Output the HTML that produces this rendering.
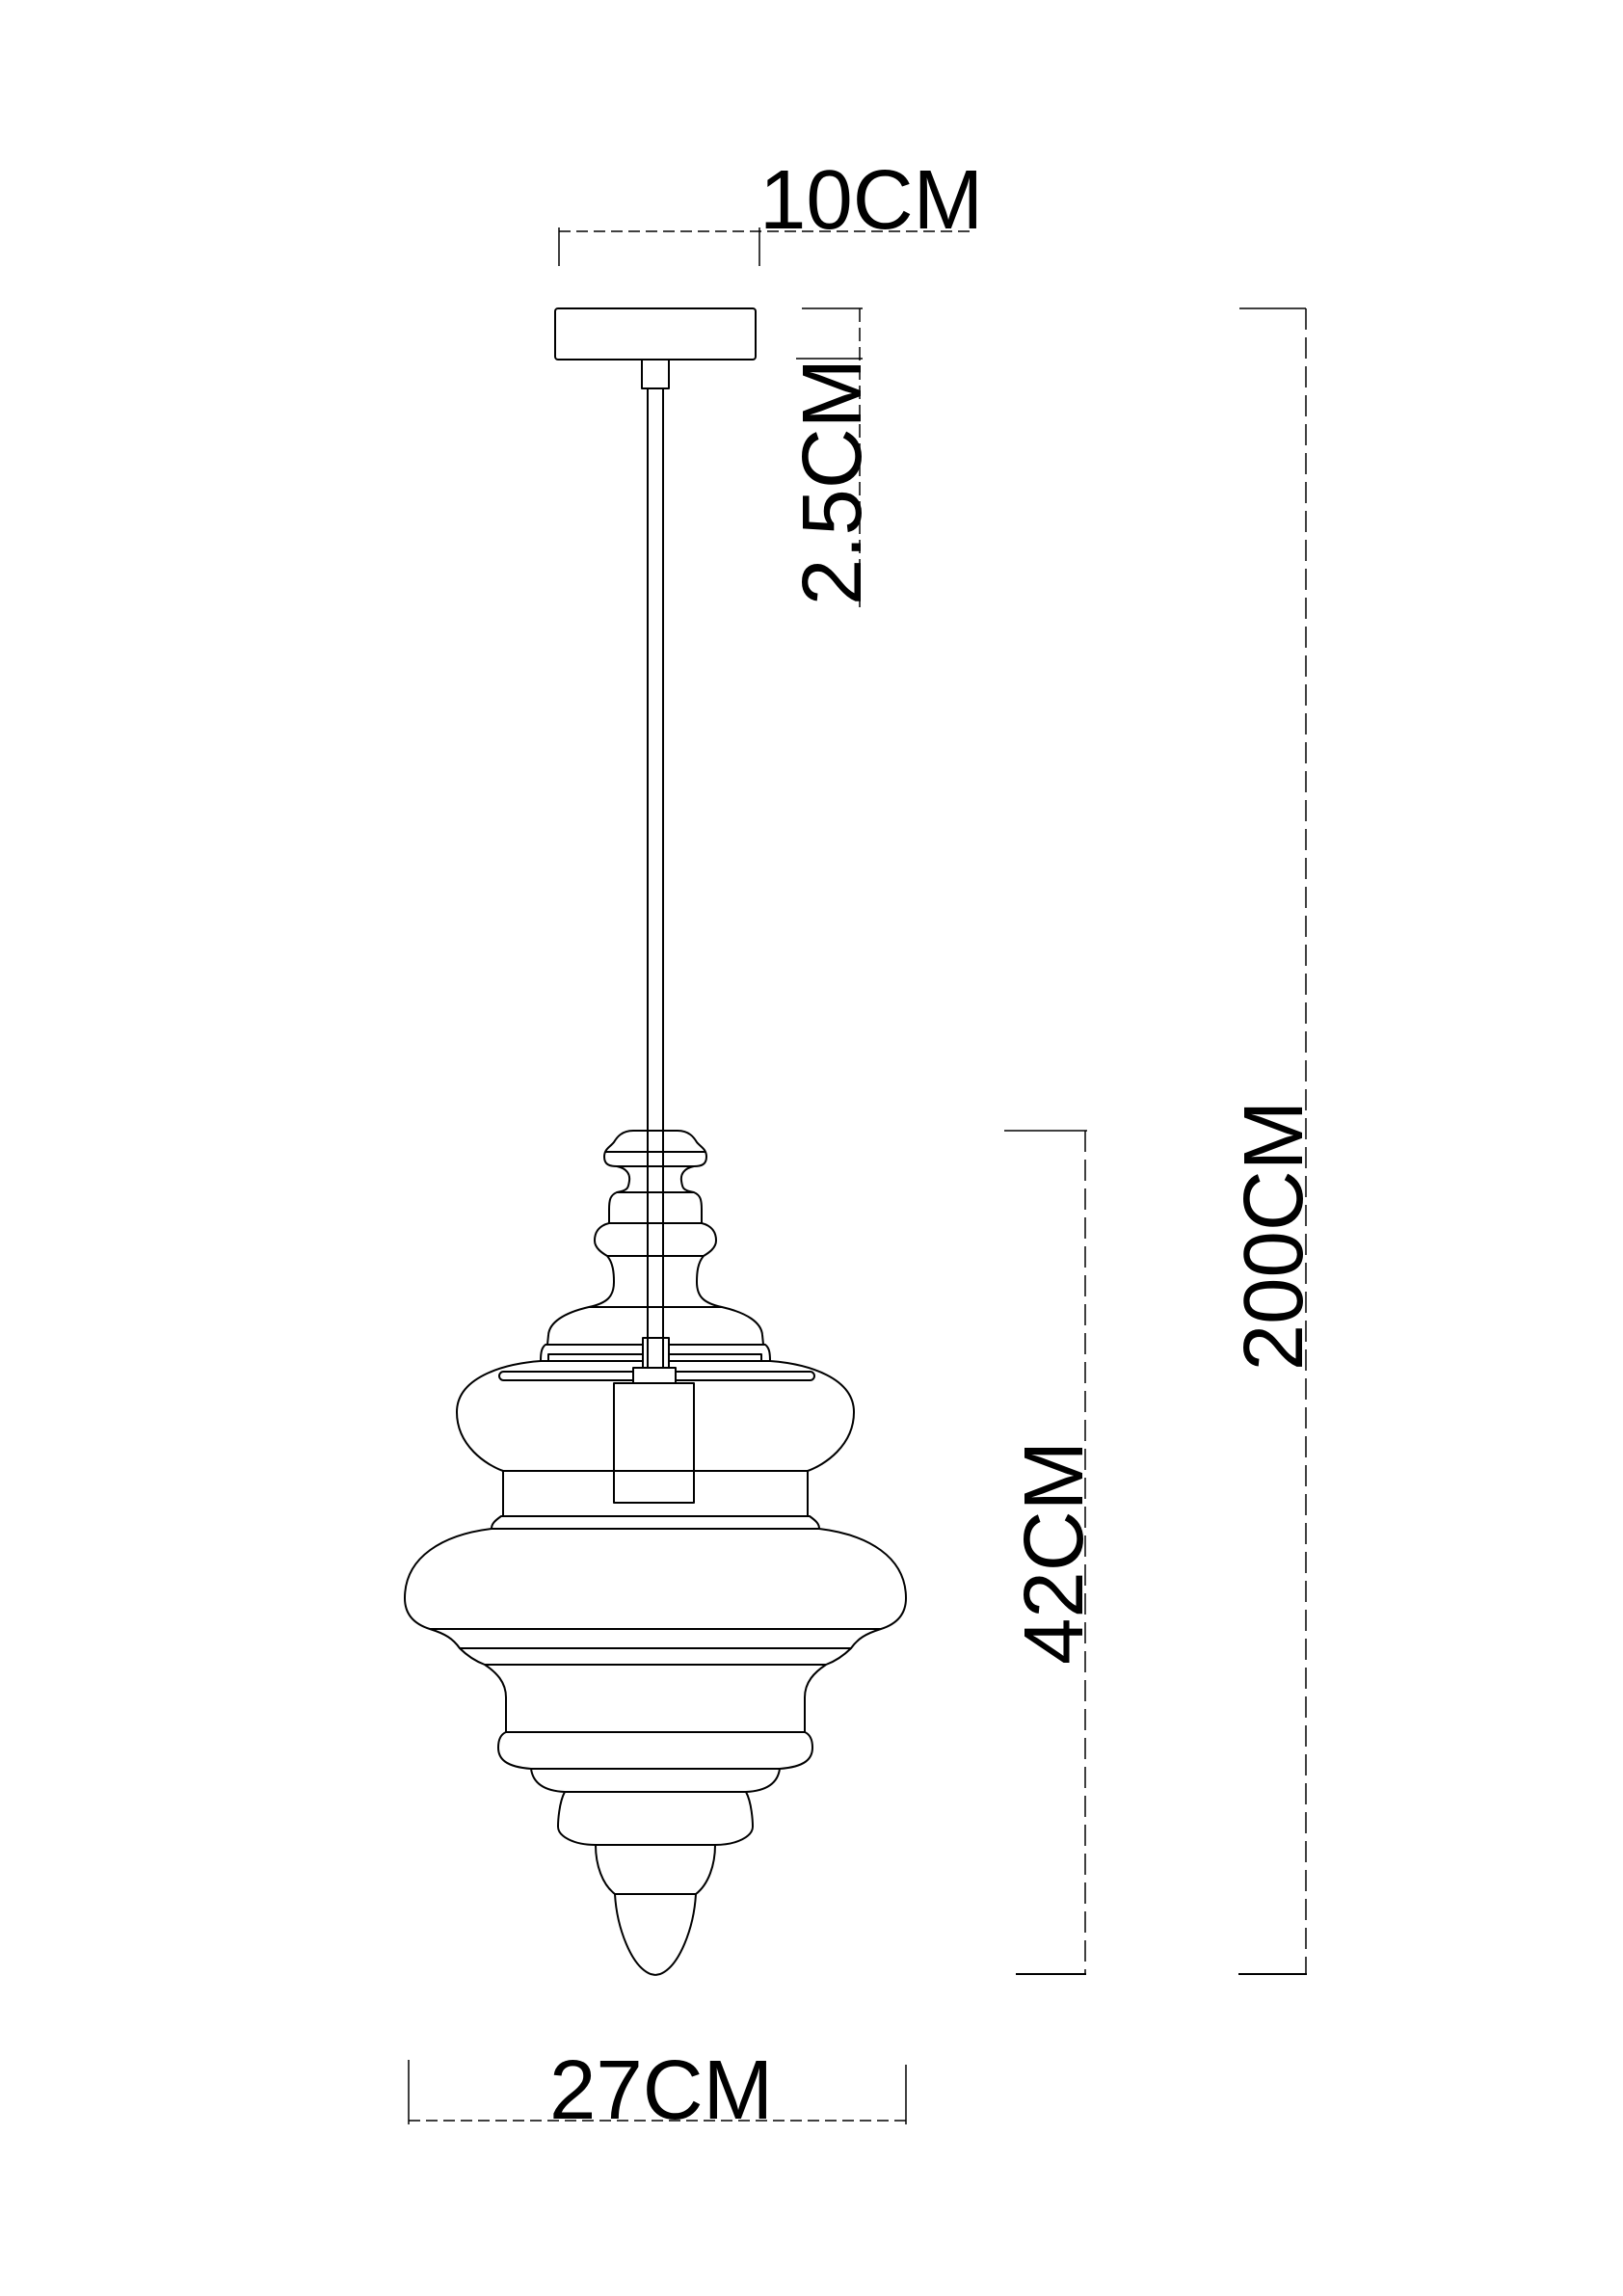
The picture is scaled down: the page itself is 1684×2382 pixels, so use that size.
<!DOCTYPE html>
<html><head><meta charset="utf-8"><style>
html,body{margin:0;padding:0;background:#fff;}
svg{display:block;}
text{font-family:"Liberation Sans",Arial,sans-serif;font-size:87px;fill:#000;}
</style></head><body>
<svg width="1684" height="2382" viewBox="0 0 1684 2382" xmlns="http://www.w3.org/2000/svg">
<rect width="1684" height="2382" fill="#fff"/>
<g fill="none" stroke="#000" stroke-width="1.5">
<!-- 10CM dimension -->
<line x1="580" y1="240" x2="1008" y2="240" stroke-dasharray="12 6"/>
<line x1="580" y1="236" x2="580" y2="276"/>
<line x1="788" y1="236" x2="788" y2="276"/>
<!-- 2.5CM dimension -->
<line x1="832" y1="320" x2="895" y2="320"/>
<line x1="826" y1="372" x2="895" y2="372"/>
<line x1="892" y1="320" x2="892" y2="630" stroke-dasharray="14 6"/>
<!-- 200CM -->
<line x1="1286" y1="320" x2="1355" y2="320"/>
<line x1="1355" y1="320" x2="1355" y2="2048" stroke-dasharray="22 8"/>
<line x1="1285" y1="2048" x2="1356" y2="2048" stroke-width="2"/>
<!-- 42CM -->
<line x1="1042" y1="1173" x2="1128" y2="1173"/>
<line x1="1126" y1="1173" x2="1126" y2="2048" stroke-dasharray="22 8"/>
<line x1="1054" y1="2048" x2="1127" y2="2048" stroke-width="2"/>
<!-- 27CM -->
<line x1="424" y1="2200" x2="940" y2="2200" stroke-dasharray="12 6"/>
<line x1="424" y1="2137" x2="424" y2="2204"/>
<line x1="940" y1="2142" x2="940" y2="2204"/>
</g>
<text x="788" y="237">10CM</text>
<text x="570" y="2198">27CM</text>
<text transform="translate(893,500) rotate(-90)" text-anchor="middle">2.5CM</text>
<text transform="translate(1351,1282) rotate(-90)" text-anchor="middle">200CM</text>
<text transform="translate(1123,1611) rotate(-90)" text-anchor="middle">42CM</text>

<g fill="none" stroke="#000" stroke-width="2" stroke-linejoin="round">
<!-- canopy -->
<rect x="576" y="320" width="208" height="53" rx="3"/>
<rect x="666" y="373" width="28" height="30"/>
<!-- rod -->
<line x1="672" y1="403" x2="672" y2="1388"/>
<line x1="688" y1="403" x2="688" y2="1388"/>

<!-- lamp outline left and mirrored right -->
<g id="half">
<path d="M680 1173 L657 1173 C645 1173 640 1180 637 1185 C633 1190 627 1192 627 1200 C627 1208 632 1210 640 1210 C650 1212 654 1218 653 1225 C652 1232 652 1235 640 1237 C633 1240 632 1245 632 1255 L632 1269 C620 1272 617 1280 617 1287 C617 1295 625 1300 630 1303 C636 1310 637 1320 637 1330 C637 1345 630 1352 611 1356 C585 1362 570 1372 569 1385 L568 1395 L566 1395 C562 1398 561 1403 561 1412 C520 1415 474 1430 474 1465 C474 1500 505 1520 522 1526 L522 1573 L520 1573 C513 1578 510 1581 510 1586 C460 1592 420 1615 420 1658 C420 1675 430 1685 446 1690 C462 1695 470 1700 477 1710 C485 1718 495 1724 503 1727 C515 1735 525 1745 525 1761 L525 1797 C518 1800 517 1808 517 1813 C517 1825 525 1833 551 1835 C553 1850 565 1858 586 1859 C580 1870 579 1890 579 1895 C579 1905 595 1914 618 1914 C618 1935 625 1955 638 1965 C640 2000 655 2040 675 2048 L680 2049"/>
</g>
<use href="#half" transform="translate(1360,0) scale(-1,1)"/>

<!-- horizontal lines -->
<line x1="628" y1="1195" x2="732" y2="1195"/>
<line x1="640" y1="1210" x2="720" y2="1210"/>
<line x1="640" y1="1237" x2="720" y2="1237"/>
<line x1="632" y1="1269" x2="728" y2="1269"/>
<line x1="630" y1="1303" x2="730" y2="1303"/>
<line x1="611" y1="1356" x2="749" y2="1356"/>
<line x1="568" y1="1395" x2="792" y2="1395"/>
<rect x="569" y="1405" width="221" height="7"/>
<line x1="561" y1="1412" x2="799" y2="1412"/>
<rect x="518" y="1423" width="327" height="9" rx="4.5"/>
<line x1="522" y1="1526" x2="838" y2="1526"/>
<line x1="520" y1="1573" x2="840" y2="1573"/>
<line x1="510" y1="1586" x2="850" y2="1586"/>
<line x1="446" y1="1690" x2="914" y2="1690"/>
<line x1="477" y1="1710" x2="883" y2="1710"/>
<line x1="503" y1="1727" x2="857" y2="1727"/>
<line x1="525" y1="1797" x2="835" y2="1797"/>
<line x1="551" y1="1835" x2="809" y2="1835"/>
<line x1="586" y1="1859" x2="774" y2="1859"/>
<line x1="618" y1="1914" x2="742" y2="1914"/>
<line x1="638" y1="1965" x2="722" y2="1965"/>

<!-- socket -->
<rect x="667" y="1388" width="27" height="31" fill="#fff"/>
<line x1="672" y1="1388" x2="672" y2="1419"/>
<line x1="688" y1="1388" x2="688" y2="1419"/>
<rect x="657" y="1419" width="44" height="16" fill="#fff"/>
<rect x="637" y="1435" width="83" height="124"/>
</g>
</svg>
</body></html>
